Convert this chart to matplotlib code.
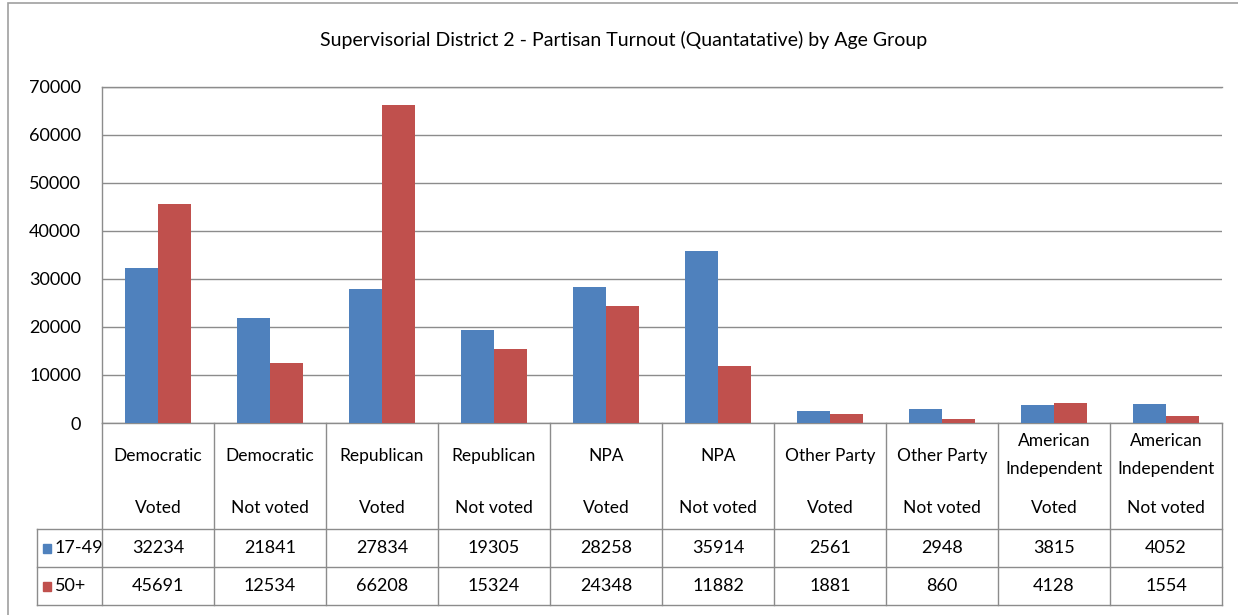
import matplotlib
matplotlib.use("Agg")
import matplotlib.pyplot as plt
from matplotlib.patches import Rectangle
import numpy as np

plt.rcParams['font.family'] = ['Lato', 'DejaVu Sans']

parties = ["Democratic", "Democratic", "Republican", "Republican", "NPA", "NPA",
           "Other Party", "Other Party", "American\nIndependent", "American\nIndependent"]
status = ["Voted", "Not voted", "Voted", "Not voted", "Voted", "Not voted",
          "Voted", "Not voted", "Voted", "Not voted"]
age_17_49 = [32234, 21841, 27834, 19305, 28258, 35914, 2561, 2948, 3815, 4052]
age_50_plus = [45691, 12534, 66208, 15324, 24348, 11882, 1881, 860, 4128, 1554]
series_names = ["17-49", "50+"]
colors = ["#4F81BD", "#C0504D"]
title = "Supervisorial District 2 - Partisan Turnout (Quantatative) by Age Group"
yticks = [0, 10000, 20000, 30000, 40000, 50000, 60000, 70000]

W, H = 1238, 615
fig = plt.figure(figsize=(W / 100, H / 100), dpi=100)

def px(x0, y0, x1, y1):
    return [x0 / W, 1 - y1 / H, (x1 - x0) / W, (y1 - y0) / H]

# outer chart border (only top and left visible in the cropped picture)
fig.patches.append(Rectangle((8 / W, -0.05), 1.2, 1 - 3 / H + 0.05,
                             transform=fig.transFigure, fill=False,
                             edgecolor="#A0A0A0", linewidth=1.2))

L, R, T, B = 102, 1222, 87, 423
ax = fig.add_axes(px(L, T, R, B))
n = len(age_17_49)
x = np.arange(n)
bw = 0.295
ax.bar(x - bw / 2, age_17_49, bw, color=colors[0], zorder=3)
ax.bar(x + bw / 2, age_50_plus, bw, color=colors[1], zorder=3)
ax.set_xlim(-0.5, n - 0.5)
ax.set_ylim(0, 70000)
ax.set_yticks(yticks)
ax.set_yticklabels([str(v) for v in yticks], fontsize=13)
ax.set_xticks([])
ax.grid(axis="y", color="#8C8C8C", linewidth=1.0, zorder=0)
for k, s in ax.spines.items():
    s.set_color("#8C8C8C")
    s.set_linewidth(1.0)
ax.spines["right"].set_visible(False)
ax.tick_params(axis="y", length=0, pad=15)

fig.text(0.5 * (325 + 922) / W, 1 - 40 / H, title, ha="center", va="center", fontsize=14)

# data table
legw = 65
tab = fig.add_axes(px(L - legw, B, R, 605))
tab.set_xlim(-0.5 - legw / 112.0, n - 0.5)
tab.set_ylim(182, 0)
tab.axis("off")
lc = "#8C8C8C"
xl = -0.5 - legw / 112.0
for i in range(n + 1):
    tab.plot([i - 0.5, i - 0.5], [0, 182], color=lc, lw=1.0, clip_on=False)
tab.plot([xl, xl], [106, 182], color=lc, lw=1.0, clip_on=False)
for yy in (106, 144, 182):
    tab.plot([xl, n - 0.5], [yy, yy], color=lc, lw=1.0, clip_on=False)

fs = 13
fw = 12.5
for i in range(n):
    if "\n" in parties[i]:
        a, b = parties[i].split("\n")
        tab.text(i, 18, a, ha="center", va="center", fontsize=fw)
        tab.text(i, 46, b, ha="center", va="center", fontsize=fw)
    else:
        tab.text(i, 33, parties[i], ha="center", va="center", fontsize=fw)
    tab.text(i, 85, status[i], ha="center", va="center", fontsize=fw)
    tab.text(i, 125, str(age_17_49[i]), ha="center", va="center", fontsize=fs)
    tab.text(i, 163, str(age_50_plus[i]), ha="center", va="center", fontsize=fs)

for k, (nm, yy) in enumerate(zip(series_names, (125, 163))):
    tab.add_patch(Rectangle((xl + 6 / 112, yy - 4.5), 8 / 112, 9, color=colors[k], clip_on=False))
    tab.text(xl + 18 / 112, yy, nm, ha="left", va="center", fontsize=fs)

fig.savefig("out.png", dpi=100)
